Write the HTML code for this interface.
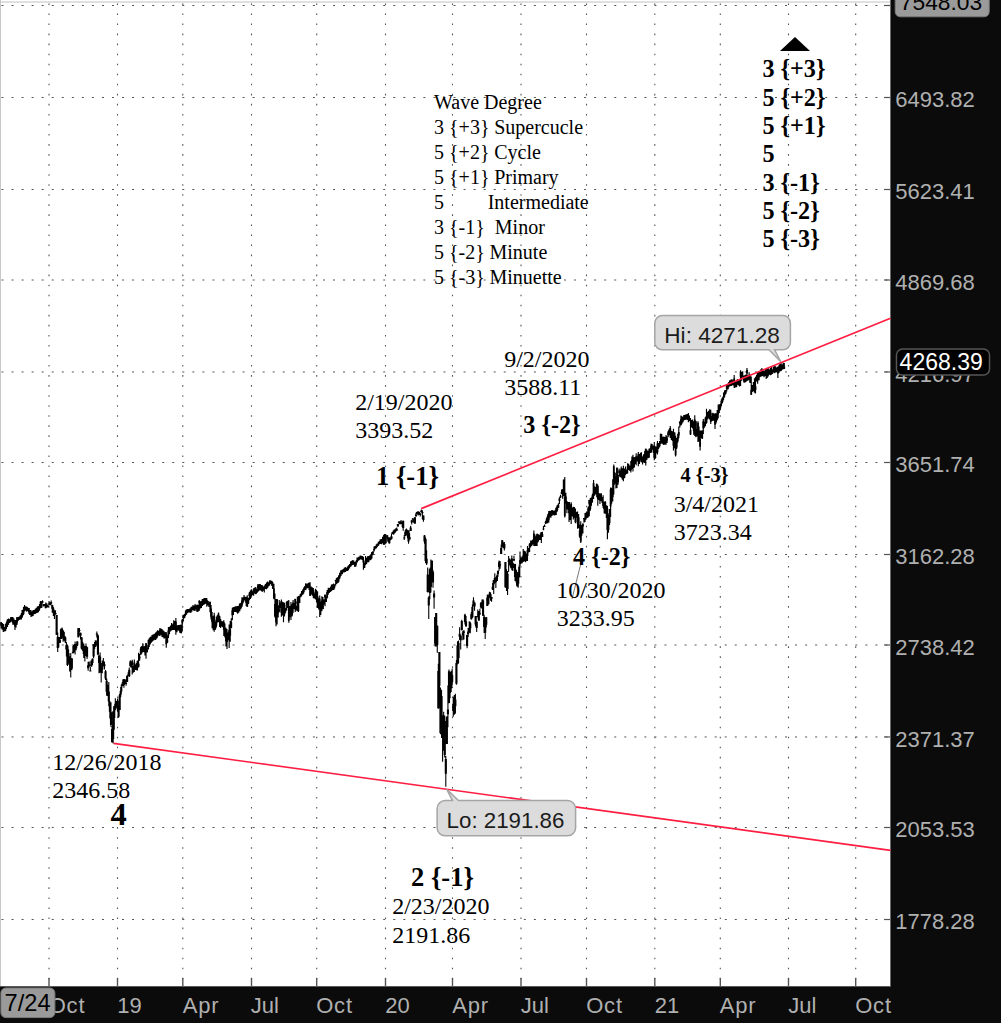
<!DOCTYPE html><html><head><meta charset="utf-8"><style>
html,body{margin:0;padding:0;background:#0b0b0b;overflow:hidden;width:1001px;height:1023px}
svg{display:block}
.sf{font-family:"Liberation Serif",serif;fill:#000}
.sb{font-family:"Liberation Serif",serif;font-weight:bold;fill:#000}
.ax{font-family:"Liberation Sans",sans-serif;fill:#b0b0b0;font-size:22px} .axm{letter-spacing:0.8px}
</style></head><body>
<svg width="1001" height="1023" viewBox="0 0 1001 1023" shape-rendering="auto">
<rect x="0" y="0" width="1001" height="1023" fill="#0b0b0b"/>
<rect x="0" y="0" width="890" height="986" fill="#ffffff"/>
<rect x="0" y="0" width="1" height="986" fill="#c8c8c8"/>
<rect x="1" y="1" width="889" height="2" fill="#e0e0e0"/>
<rect x="890" y="0" width="1" height="987" fill="#6a6a6a"/>
<rect x="0" y="986" width="891" height="1" fill="#5a5a5a"/>
<g><line x1="1.5" y1="5.5" x2="890" y2="5.5" stroke="#555" stroke-width="1" stroke-dasharray="2 8.045"/><line x1="1.5" y1="97.5" x2="890" y2="97.5" stroke="#555" stroke-width="1" stroke-dasharray="2 8.045"/><line x1="1.5" y1="189.5" x2="890" y2="189.5" stroke="#555" stroke-width="1" stroke-dasharray="2 8.045"/><line x1="1.5" y1="280.0" x2="890" y2="280.0" stroke="#555" stroke-width="1" stroke-dasharray="2 8.045"/><line x1="1.5" y1="371.96" x2="890" y2="371.96" stroke="#555" stroke-width="1" stroke-dasharray="2 8.045"/><line x1="1.5" y1="462.5" x2="890" y2="462.5" stroke="#555" stroke-width="1" stroke-dasharray="2 8.045"/><line x1="1.5" y1="554.5" x2="890" y2="554.5" stroke="#555" stroke-width="1" stroke-dasharray="2 8.045"/><line x1="1.5" y1="645.0" x2="890" y2="645.0" stroke="#555" stroke-width="1" stroke-dasharray="2 8.045"/><line x1="1.5" y1="736.96" x2="890" y2="736.96" stroke="#555" stroke-width="1" stroke-dasharray="2 8.045"/><line x1="1.5" y1="827.5" x2="890" y2="827.5" stroke="#555" stroke-width="1" stroke-dasharray="2 8.045"/><line x1="1.5" y1="919.5" x2="890" y2="919.5" stroke="#555" stroke-width="1" stroke-dasharray="2 8.045"/><line x1="49.0" y1="3.4" x2="49.0" y2="986" stroke="#555" stroke-width="1.1" stroke-dasharray="1.6 8.445"/><line x1="117.5" y1="3.4" x2="117.5" y2="986" stroke="#555" stroke-width="1.1" stroke-dasharray="1.6 8.445"/><line x1="182.8" y1="3.4" x2="182.8" y2="986" stroke="#555" stroke-width="1.1" stroke-dasharray="1.6 8.445"/><line x1="251.5" y1="3.4" x2="251.5" y2="986" stroke="#555" stroke-width="1.1" stroke-dasharray="1.6 8.445"/><line x1="316.7" y1="3.4" x2="316.7" y2="986" stroke="#555" stroke-width="1.1" stroke-dasharray="1.6 8.445"/><line x1="385.5" y1="3.4" x2="385.5" y2="986" stroke="#555" stroke-width="1.1" stroke-dasharray="1.6 8.445"/><line x1="452.5" y1="3.4" x2="452.5" y2="986" stroke="#555" stroke-width="1.1" stroke-dasharray="1.6 8.445"/><line x1="521.0" y1="3.4" x2="521.0" y2="986" stroke="#555" stroke-width="1.1" stroke-dasharray="1.6 8.445"/><line x1="586.5" y1="3.4" x2="586.5" y2="986" stroke="#555" stroke-width="1.1" stroke-dasharray="1.6 8.445"/><line x1="654.8" y1="3.4" x2="654.8" y2="986" stroke="#555" stroke-width="1.1" stroke-dasharray="1.6 8.445"/><line x1="720.3" y1="3.4" x2="720.3" y2="986" stroke="#555" stroke-width="1.1" stroke-dasharray="1.6 8.445"/><line x1="788.5" y1="3.4" x2="788.5" y2="986" stroke="#555" stroke-width="1.1" stroke-dasharray="1.6 8.445"/><line x1="855.7" y1="3.4" x2="855.7" y2="986" stroke="#555" stroke-width="1.1" stroke-dasharray="1.6 8.445"/></g>
<rect x="884" y="4.9" width="6" height="1.2" fill="#555"/><rect x="884" y="96.9" width="6" height="1.2" fill="#555"/><rect x="884" y="188.9" width="6" height="1.2" fill="#555"/><rect x="884" y="279.4" width="6" height="1.2" fill="#555"/><rect x="884" y="371.35999999999996" width="6" height="1.2" fill="#555"/><rect x="884" y="461.9" width="6" height="1.2" fill="#555"/><rect x="884" y="553.9" width="6" height="1.2" fill="#555"/><rect x="884" y="644.4" width="6" height="1.2" fill="#555"/><rect x="884" y="736.36" width="6" height="1.2" fill="#555"/><rect x="884" y="826.9" width="6" height="1.2" fill="#555"/><rect x="884" y="918.9" width="6" height="1.2" fill="#555"/><rect x="48.3" y="978" width="1.4" height="8" fill="#555"/><rect x="116.8" y="978" width="1.4" height="8" fill="#555"/><rect x="182.10000000000002" y="978" width="1.4" height="8" fill="#555"/><rect x="250.8" y="978" width="1.4" height="8" fill="#555"/><rect x="316.0" y="978" width="1.4" height="8" fill="#555"/><rect x="384.8" y="978" width="1.4" height="8" fill="#555"/><rect x="451.8" y="978" width="1.4" height="8" fill="#555"/><rect x="520.3" y="978" width="1.4" height="8" fill="#555"/><rect x="585.8" y="978" width="1.4" height="8" fill="#555"/><rect x="654.0999999999999" y="978" width="1.4" height="8" fill="#555"/><rect x="719.5999999999999" y="978" width="1.4" height="8" fill="#555"/><rect x="787.8" y="978" width="1.4" height="8" fill="#555"/><rect x="855.0" y="978" width="1.4" height="8" fill="#555"/>
<path d="M1.13 622.1V628.5M2.20 623.0V629.8M3.26 624.1V632.0M4.33 627.0V631.6M5.39 624.0V631.2M6.46 621.4V629.1M7.52 619.5V627.0M8.59 618.4V624.8M9.65 619.2V622.9M10.72 617.1V622.3M11.79 617.0V621.6M12.85 617.0V624.8M13.92 618.4V624.8M14.98 620.0V630.0M16.05 620.0V627.4M17.11 617.0V624.7M18.18 617.2V621.1M19.24 616.6V620.0M20.31 615.3V619.4M21.38 612.9V619.4M22.44 609.9V617.6M23.51 607.0V615.2M24.57 604.9V611.5M25.64 606.6V610.6M26.70 606.6V611.7M27.77 607.6V611.0M28.83 607.9V613.8M29.90 609.9V614.9M30.96 610.0V616.9M32.03 611.6V616.4M33.10 610.0V615.9M34.16 610.0V614.3M35.23 608.8V613.9M36.29 607.8V613.3M37.36 606.6V612.8M38.42 606.0V612.2M39.49 603.8V610.8M40.55 601.1V608.1M131.12 661.9V667.7M132.19 659.8V674.4M133.25 665.7V672.7M134.32 659.5V672.0M135.38 664.6V670.0M136.45 663.1V670.2M137.51 660.4V670.5M138.58 652.8V667.4M139.65 654.0V660.7M140.71 646.7V654.7M141.78 646.0V653.5M142.84 643.3V652.2M143.91 646.3V651.9M144.97 645.9V655.6M146.04 642.9V658.8M147.10 647.7V652.3M148.17 639.7V649.6M149.24 638.2V646.9M150.30 636.7V644.5M151.37 636.6V642.8M152.43 634.8V641.6M153.50 634.3V640.5M154.56 633.7V639.7M155.63 632.4V640.0M156.69 631.4V638.6M157.76 630.2V636.5M158.82 631.0V635.6M159.89 628.1V636.0M160.96 628.5V634.4M162.02 629.0V637.0M163.09 630.3V637.5M164.15 631.2V638.8M165.22 632.2V637.9M166.28 632.1V647.7M167.35 635.2V642.9M168.41 627.0V638.3M169.48 627.0V634.1M170.55 625.6V631.5M171.61 623.0V630.4M172.68 624.2V630.0M173.74 620.3V630.0M174.81 621.1V630.1M175.87 618.1V634.7M176.94 625.4V632.3M178.00 625.0V630.0M179.07 625.0V630.8M180.13 624.7V633.1M181.20 624.6V633.6M182.27 618.9V631.5M183.33 614.7V621.6M184.40 614.0V618.2M185.46 610.5V616.3M186.53 609.5V614.7M187.59 609.0V613.2M188.66 609.0V612.3M189.72 608.5V612.4M190.79 607.2V612.9M191.86 606.8V611.7M192.92 605.1V610.1M193.99 605.7V610.5M195.05 604.0V611.0M196.12 605.3V609.6M197.18 604.5V611.9M198.25 604.7V611.4M199.31 600.3V610.7M200.38 601.4V608.6M201.44 601.1V608.1M202.51 599.0V606.0M203.58 598.4V604.7M204.64 598.0V604.2M205.71 598.0V603.7M206.77 598.0V606.7M207.84 600.7V605.6M208.90 602.8V607.0M209.97 601.7V612.2M211.03 604.9V619.6M212.10 612.0V628.2M213.17 616.2V630.3M214.23 612.7V631.7M215.30 621.8V630.0M216.36 616.7V627.4M217.43 615.3V622.6M218.49 612.5V622.2M219.56 615.7V627.0M220.62 619.0V627.9M221.69 621.2V626.5M222.75 621.2V627.2M223.82 620.2V636.0M224.89 623.5V637.4M225.95 627.8V646.4M227.02 629.0V649.0M228.08 632.5V640.3M229.15 624.5V648.1M230.21 621.0V641.7M231.28 618.3V628.3M232.34 607.8V620.3M233.41 607.3V615.0M234.48 606.8V612.0M235.54 606.2V612.0M236.61 606.2V612.3M237.67 606.0V613.7M238.74 605.8V612.5M239.80 603.3V611.3M240.87 602.7V609.3M241.93 597.2V607.1M243.00 597.5V603.5M244.06 595.1V600.2M245.13 596.8V601.4M246.20 596.7V606.1M247.26 595.3V606.8M248.33 597.8V604.1M249.39 592.1V600.3M250.46 590.5V598.9M251.52 589.5V596.2M252.59 591.2V595.3M253.65 588.2V595.8M254.72 587.6V593.6M255.79 587.1V594.2M256.85 588.6V593.1M257.92 584.1V592.1M258.98 584.2V591.0M260.05 584.0V590.0M261.11 585.0V591.1M262.18 585.1V592.1M263.24 586.4V590.7M264.31 585.5V592.5M265.38 583.9V589.0M266.44 582.6V589.3M267.51 581.5V587.7M268.57 582.2V586.3M269.64 580.2V585.4M270.70 580.4V583.9M271.77 580.9V585.9M272.83 582.3V589.0M273.90 583.8V599.3M274.96 593.6V617.4M276.03 599.0V626.3M277.10 599.0V624.4M278.16 605.3V617.5M279.23 599.9V612.3M280.29 602.4V608.3M281.36 599.5V616.8M282.42 602.0V615.6M283.49 602.2V622.3M284.55 602.8V616.5M285.62 608.1V612.7M286.68 601.3V610.6M287.75 600.7V608.1M288.82 600.1V622.7M289.88 605.9V617.3M290.95 601.9V620.1M292.01 604.3V616.5M293.08 600.0V613.0M294.14 603.2V609.2M295.21 598.8V611.9M296.27 605.5V610.5M297.34 596.8V611.2M298.41 596.1V611.9M299.47 595.4V602.9M300.54 593.7V597.5M301.60 591.0V596.4M302.67 589.5V594.8M303.73 587.4V593.4M304.80 586.0V589.9M305.86 583.3V590.2M306.93 584.3V588.5M307.99 583.0V588.0M309.06 582.5V589.9M310.13 582.3V596.1M311.19 586.5V594.5M312.26 587.2V595.8M313.32 588.1V598.2M314.39 593.6V598.5M315.45 588.8V599.6M316.52 589.8V602.6M317.58 591.4V607.9M318.65 598.3V609.4M319.72 595.4V616.9M320.78 601.8V614.9M321.85 596.2V611.3M322.91 596.9V609.2M323.98 599.4V604.4M325.04 594.3V606.3M326.11 596.6V602.1M327.17 590.1V598.4M328.24 587.7V594.7M329.30 588.0V593.1M330.37 587.1V591.8M331.44 584.4V590.9M332.50 584.2V590.2M333.57 583.6V590.1M334.63 584.2V588.5M335.70 579.8V585.5M336.76 577.7V583.9M337.83 576.9V582.9M338.89 575.0V581.8M339.96 572.4V578.6M341.03 570.6V576.1M342.09 569.8V574.2M343.16 568.9V572.5M344.22 567.8V572.4M345.29 566.9V571.9M346.35 567.8V571.1M347.42 566.7V570.9M348.48 565.2V570.2M349.55 563.9V568.4M350.61 561.6V566.6M351.68 560.7V565.5M352.75 560.1V565.1M353.81 560.6V564.8M354.88 561.9V567.1M355.94 560.7V566.5M357.01 557.5V562.7M358.07 557.5V560.7M359.14 556.5V560.2M360.20 555.6V559.6M361.27 555.8V559.2M362.34 556.0V560.0M363.40 556.8V569.8M364.47 562.6V567.9M365.53 556.0V565.0M366.60 557.8V564.1M367.66 556.3V562.2M368.73 556.0V562.2M369.79 555.3V560.6M370.86 554.1V560.0M371.92 551.9V558.6M372.99 551.3V555.0M374.06 546.6V551.5M375.12 545.9V549.3M376.19 544.6V548.2M377.25 543.8V547.0M378.32 541.8V545.8M379.38 541.0V544.2M380.45 539.4V544.1M381.51 538.9V544.3M382.58 536.7V543.2M383.65 535.1V544.7M384.71 534.0V544.8M385.78 534.3V543.8M520.03 551.5V566.2M521.09 557.5V563.8M522.16 557.2V563.2M523.23 548.9V562.1M524.29 550.7V561.3M525.36 551.5V562.2M526.42 553.6V561.2M527.49 546.1V560.9M528.55 548.1V552.4M529.62 543.2V551.9M530.68 540.6V547.3M531.75 540.6V546.0M532.82 539.7V544.4M533.88 530.4V546.0M534.95 534.4V546.0M536.01 536.2V546.0M537.08 533.5V546.0M538.14 533.9V542.3M539.21 535.0V539.9M540.27 533.6V540.1M541.34 532.1V543.1M542.40 531.8V537.1M543.47 526.1V530.2M544.54 524.6V526.9M545.60 520.7V524.0M546.67 517.4V523.6M547.73 514.3V523.3M548.80 510.9V522.4M549.86 510.8V517.2M550.93 511.0V517.7M551.99 510.0V516.0M553.06 510.4V514.7M554.13 510.8V515.5M555.19 509.7V515.3M556.26 507.2V515.1M557.32 505.2V511.6M558.39 503.3V508.0M559.45 497.3V503.9M560.52 494.7V498.0M561.58 489.5V493.9M562.65 489.0V498.8M563.71 479.6V496.3M564.78 477.1V517.4M565.85 492.8V503.7M566.91 501.0V513.2M567.98 502.0V509.5M569.04 502.0V522.0M570.11 504.7V520.1M571.17 502.3V523.9M572.24 507.5V516.4M573.30 506.7V519.4M574.37 507.1V517.8M575.44 508.6V523.2M576.50 511.8V517.5M577.57 511.4V528.8M578.63 514.1V528.2M579.70 524.4V537.8M580.76 521.2V542.9M581.83 525.1V535.7M582.89 523.6V533.6M583.96 517.9V522.8M585.02 512.9V522.0M586.09 512.5V519.5M587.16 511.4V518.0M588.22 506.6V517.5M589.29 499.7V516.3M590.35 497.9V510.7M591.42 497.2V505.8M592.48 493.5V502.6M593.55 480.1V499.1M594.61 486.2V495.8M595.68 487.0V494.3M596.75 483.6V497.2M597.81 484.8V505.7M598.88 493.3V500.1M599.94 494.1V504.0M601.01 493.0V500.9M602.07 496.9V503.0M603.14 495.3V508.0M604.20 501.7V513.6M605.27 501.5V513.7M606.33 505.3V517.9M607.40 505.8V539.3M608.47 514.6V532.8M609.53 509.1V524.9M610.60 487.4V517.0M611.66 487.8V503.8M612.73 479.3V501.4M613.79 464.5V494.4M614.86 472.2V483.6M615.92 476.5V488.4M616.99 467.3V487.9M618.06 474.9V484.7M619.12 468.5V476.4M620.19 470.8V477.2M621.25 466.6V477.4M622.32 468.5V479.7M623.38 465.8V481.3M624.45 468.7V478.3M625.51 466.5V475.0M626.58 469.5V474.1M627.64 463.2V473.6M628.71 463.8V469.9M629.78 465.5V471.0M630.84 461.0V472.4M631.91 456.5V468.9M632.97 454.8V471.5M634.04 457.3V467.6M635.10 457.1V464.1M636.17 453.2V465.2M637.23 456.2V461.5M638.30 452.1V466.2M639.37 454.0V463.9M640.43 452.7V460.5M641.50 452.2V462.0M642.56 456.6V464.6M643.63 454.3V462.2M644.69 450.9V463.1M645.76 448.7V465.4M646.82 449.8V460.1M647.89 450.8V458.3M648.95 448.8V457.9M650.02 448.6V453.1M651.09 443.4V453.0M652.15 444.1V449.3M653.22 445.4V452.8M654.28 442.1V460.3M655.35 446.6V458.8M656.41 446.5V453.2M657.48 440.9V454.4M658.54 443.1V448.9M659.61 441.1V447.5M660.68 433.7V444.1M661.74 434.1V443.5M662.81 436.7V444.2M663.87 436.4V444.9M664.94 437.0V444.3M666.00 434.9V445.0M667.07 436.3V442.9M668.13 431.1V437.3M669.20 429.0V435.5M670.26 426.1V438.1M671.33 430.8V440.0M672.40 431.2V441.0M673.46 428.7V450.5M674.53 432.5V448.5M675.59 435.8V456.5M676.66 438.1V449.0M677.72 433.8V442.8M678.79 426.5V438.3M679.85 421.4V427.5M680.92 415.4V425.5M681.99 416.2V423.8M683.05 417.0V422.3M684.12 415.0V420.3M685.18 414.8V420.0M686.25 414.2V419.4M687.31 413.9V420.0M688.38 412.9V422.3M689.44 415.4V421.3M690.51 417.9V435.1M691.57 419.9V427.5M692.64 419.4V428.5M693.71 421.2V434.8M694.77 415.2V436.1M695.84 421.2V437.3M696.90 429.1V436.6M697.97 421.2V442.1M699.03 426.4V441.4M700.10 430.6V450.5M701.16 430.6V438.1M702.23 430.3V439.1M703.30 419.0V434.0M704.36 422.1V427.8M705.43 416.8V426.2M706.49 408.7V423.7M707.56 411.7V419.4M708.62 410.8V417.7M709.69 409.2V419.5M710.75 409.8V423.9M711.82 416.0V421.2M712.88 412.8V420.2M713.95 413.9V420.7M715.02 413.0V428.9M716.08 413.6V423.6M717.15 410.1V420.4M718.21 404.6V418.2M719.28 404.3V412.9M720.34 403.8V410.1M721.41 399.2V406.3M722.47 397.3V403.3M723.54 392.5V400.3M724.61 390.2V397.3M725.67 389.9V394.3M726.74 384.7V391.5M727.80 383.8V389.4M728.87 381.9V387.3M729.93 380.4V386.2M731.00 379.6V385.9M732.06 379.3V385.3M733.13 380.2V385.6M734.19 374.9V387.9M735.26 381.9V387.6M736.33 380.8V387.3M737.39 379.0V384.4M738.46 380.1V385.6M739.52 379.0V386.4M740.59 370.3V386.1M741.65 371.9V380.8M742.72 371.3V376.7M743.78 376.0V382.6M744.85 375.0V382.8M745.92 374.4V381.9M746.98 368.0V381.0M748.05 375.1V380.5M749.11 372.2V379.7M750.18 374.4V383.0M751.24 376.5V395.1M752.31 385.1V392.1M753.37 382.1V390.9M754.44 378.2V392.7M755.50 377.0V393.6M756.57 375.0V381.6M757.64 372.7V383.7M758.70 371.4V380.5M759.77 371.0V377.3M760.83 369.2V376.8M761.90 368.1V376.2M762.96 370.1V375.9M764.03 371.1V377.3M765.09 370.0V375.9M766.16 368.9V378.9M767.23 368.9V378.0M768.29 368.1V376.6M769.36 369.5V374.7M770.42 368.0V375.3M771.49 366.9V374.8M772.55 369.3V374.1M773.62 366.4V372.4M774.68 366.1V373.2M775.75 366.4V372.3M776.81 367.4V372.0M777.88 366.5V378.1M778.95 365.3V373.1M780.01 363.9V371.5M781.08 362.5V371.0M782.14 364.8V369.7M783.21 362.8V369.3M784.27 363.0V369.0" stroke="#000" stroke-width="1.15" fill="none"/>
<path d="M1.13 622.3V625.7M2.20 623.2V626.2M3.26 624.5V627.7M4.33 627.7V628.9M5.39 627.3V631.0M6.46 622.9V626.7M7.52 619.6V624.7M8.59 619.1V623.1M9.65 619.4V621.7M10.72 618.8V621.3M11.79 617.7V618.8M12.85 618.5V622.7M13.92 621.7V624.0M14.98 621.1V626.6M16.05 620.9V625.1M17.11 617.3V622.6M18.18 617.3V619.0M19.24 617.8V619.6M20.31 616.4V618.7M21.38 614.4V617.6M22.44 610.1V614.2M23.51 609.4V613.9M24.57 606.5V611.1M25.64 608.0V609.0M26.70 607.0V608.4M27.77 608.5V609.6M28.83 608.1V611.9M29.90 611.6V614.7M30.96 611.9V614.2M32.03 612.2V613.5M33.10 610.9V612.8M34.16 611.3V612.3M35.23 610.6V612.5M36.29 609.6V612.4M37.36 610.9V612.3M38.42 607.5V609.9M39.49 607.1V608.9M40.55 601.5V603.1M131.12 661.9V663.2M132.19 660.9V664.9M133.25 666.2V669.7M134.32 662.4V666.5M135.38 665.3V669.2M136.45 664.3V666.9M137.51 661.0V667.2M138.58 663.7V666.8M139.65 656.8V658.2M140.71 648.8V654.4M141.78 650.1V652.2M142.84 647.0V651.1M143.91 647.8V651.6M144.97 649.3V652.4M146.04 643.2V649.2M147.10 649.7V652.2M148.17 645.1V649.2M149.24 639.5V642.2M150.30 637.8V640.2M151.37 638.8V641.6M152.43 635.0V639.1M153.50 636.9V640.2M154.56 637.1V638.8M155.63 636.2V639.0M156.69 633.1V638.0M157.76 630.8V632.6M158.82 633.8V635.0M159.89 629.7V635.2M160.96 633.0V634.3M162.02 631.0V635.2M163.09 630.9V635.3M164.15 632.7V635.2M165.22 632.7V635.0M166.28 634.1V644.3M167.35 639.4V642.6M168.41 630.3V635.4M169.48 627.1V630.3M170.55 626.3V628.7M171.61 627.7V629.2M172.68 625.2V628.0M173.74 623.2V627.7M174.81 622.7V625.7M175.87 621.6V631.3M176.94 627.8V630.7M178.00 626.4V628.7M179.07 628.1V630.6M180.13 628.0V632.6M181.20 627.1V633.1M182.27 620.1V623.4M183.33 615.0V617.9M184.40 615.6V618.0M185.46 613.5V615.1M186.53 609.8V612.6M187.59 609.6V612.4M188.66 610.8V612.3M189.72 609.3V611.0M190.79 608.5V610.2M191.86 606.8V608.9M192.92 607.1V608.9M193.99 607.6V610.4M195.05 605.4V607.2M196.12 606.6V607.8M197.18 606.6V611.4M198.25 607.1V610.3M199.31 600.8V603.3M200.38 602.9V607.7M201.44 601.3V605.5M202.51 599.2V603.5M203.58 601.4V604.5M204.64 598.5V600.6M205.71 598.2V599.8M206.77 599.9V602.5M207.84 601.1V603.4M208.90 602.8V604.4M209.97 601.8V605.2M211.03 608.4V616.8M212.10 617.4V622.2M213.17 620.3V626.2M214.23 615.5V627.2M215.30 626.0V629.1M216.36 619.8V625.6M217.43 615.7V617.6M218.49 613.5V619.1M219.56 616.4V619.6M220.62 620.4V623.4M221.69 622.8V624.6M222.75 623.1V627.1M223.82 622.2V629.7M224.89 627.8V630.6M225.95 633.1V641.2M227.02 636.0V642.1M228.08 632.7V635.8M229.15 630.2V635.2M230.21 629.3V635.8M231.28 622.2V627.7M232.34 610.3V615.2M233.41 607.5V611.5M234.48 608.5V611.8M235.54 608.3V611.3M236.61 609.0V611.7M237.67 608.5V613.1M238.74 606.5V610.1M239.80 604.1V605.9M240.87 604.8V608.0M241.93 600.5V605.6M243.00 598.8V602.2M244.06 596.9V599.3M245.13 597.7V598.8M246.20 597.6V602.9M247.26 600.2V606.7M248.33 600.0V603.5M249.39 593.6V595.9M250.46 591.6V596.4M251.52 589.5V592.8M252.59 592.4V594.7M253.65 590.8V593.4M254.72 588.1V591.9M255.79 589.2V594.1M256.85 589.3V592.4M257.92 585.2V587.9M258.98 586.8V588.6M260.05 584.3V588.4M261.11 585.7V589.0M262.18 586.3V590.8M263.24 587.2V589.0M264.31 587.3V589.2M265.38 585.8V588.7M266.44 587.2V589.0M267.51 584.0V587.5M268.57 582.9V585.8M269.64 581.6V583.5M270.70 580.7V582.9M271.77 581.3V584.6M272.83 586.2V588.8M273.90 588.3V598.3M274.96 604.1V616.4M276.03 603.9V622.2M277.10 599.6V613.8M278.16 607.0V613.3M279.23 608.8V611.6M280.29 605.3V607.3M281.36 600.9V612.8M282.42 603.4V608.8M283.49 605.2V610.9M284.55 605.1V614.1M285.62 608.5V610.4M286.68 601.9V604.7M287.75 603.6V606.0M288.82 606.1V620.7M289.88 608.3V612.7M290.95 605.8V610.0M292.01 609.4V615.6M293.08 602.4V606.4M294.14 604.8V608.9M295.21 598.9V607.2M296.27 607.1V609.3M297.34 601.3V604.2M298.41 600.5V611.0M299.47 598.1V602.9M300.54 593.9V595.2M301.60 593.0V594.5M302.67 591.5V594.2M303.73 589.3V591.9M304.80 586.8V589.4M305.86 583.8V586.3M306.93 584.5V585.6M307.99 584.6V586.9M309.06 584.2V585.8M310.13 589.8V595.8M311.19 587.8V590.4M312.26 590.6V592.4M313.32 590.1V595.5M314.39 593.7V595.3M315.45 591.7V595.7M316.52 590.9V597.9M317.58 596.3V606.2M318.65 604.2V608.1M319.72 598.7V605.4M320.78 603.2V609.0M321.85 600.6V605.3M322.91 602.4V608.9M323.98 599.6V603.1M325.04 594.9V597.6M326.11 599.0V602.1M327.17 592.1V597.7M328.24 591.3V592.8M329.30 588.0V589.4M330.37 590.5V591.7M331.44 586.0V587.9M332.50 586.4V587.8M333.57 587.3V589.8M334.63 585.5V586.5M335.70 580.1V581.3M336.76 578.3V582.3M337.83 580.7V582.7M338.89 575.9V579.3M339.96 573.2V576.7M341.03 570.6V572.5M342.09 571.5V574.1M343.16 570.0V571.2M344.22 569.1V570.6M345.29 569.5V571.7M346.35 568.8V570.8M347.42 568.8V570.4M348.48 565.9V567.1M349.55 565.8V566.8M350.61 564.8V566.6M351.68 561.1V562.2M352.75 562.1V564.3M353.81 562.0V564.1M354.88 565.1V566.4M355.94 562.8V564.8M357.01 559.9V561.9M358.07 559.5V560.5M359.14 557.1V559.6M360.20 557.9V559.1M361.27 557.4V558.9M362.34 557.4V559.8M363.40 559.7V562.6M364.47 565.1V567.7M365.53 560.8V564.2M366.60 558.0V562.2M367.66 556.8V559.1M368.73 557.1V559.0M369.79 556.6V557.7M370.86 557.3V559.1M371.92 552.2V555.3M372.99 551.5V553.4M374.06 549.0V550.4M375.12 546.3V548.6M376.19 545.9V548.2M377.25 543.8V544.8M378.32 543.9V545.6M379.38 542.1V543.6M380.45 539.5V542.6M381.51 540.1V541.5M382.58 539.6V542.5M383.65 538.2V544.6M384.71 534.3V539.1M385.78 538.1V543.0M520.03 559.9V564.0M521.09 557.9V561.8M522.16 557.6V560.0M523.23 555.3V559.6M524.29 550.9V557.0M525.36 555.0V560.1M526.42 556.5V559.6M527.49 549.9V556.1M528.55 550.4V551.7M529.62 543.8V547.5M530.68 542.7V544.5M531.75 543.3V544.5M532.82 539.8V542.0M533.88 533.6V540.7M534.95 537.0V545.1M536.01 541.4V545.8M537.08 534.2V542.4M538.14 537.8V541.0M539.21 535.3V538.2M540.27 535.8V538.0M541.34 532.3V536.3M542.40 534.0V536.9M543.47 528.4V529.6M544.54 525.7V526.7M545.60 521.7V523.2M546.67 518.6V521.8M547.73 516.0V520.3M548.80 513.0V519.7M549.86 511.4V515.4M550.93 511.9V515.5M551.99 510.2V511.4M553.06 512.5V514.5M554.13 510.9V511.9M555.19 511.9V513.7M556.26 508.0V512.0M557.32 505.7V510.0M558.39 504.6V507.7M559.45 498.4V501.0M560.52 496.0V497.2M561.58 491.9V493.8M562.65 493.0V495.2M563.71 479.7V489.5M564.78 497.0V516.2M565.85 496.6V501.5M566.91 501.8V509.2M567.98 504.1V509.0M569.04 502.1V513.2M570.11 507.6V516.4M571.17 503.8V510.6M572.24 510.1V515.2M573.30 509.6V515.7M574.37 512.0V517.6M575.44 517.5V522.0M576.50 514.1V517.4M577.57 513.9V523.8M578.63 517.2V526.4M579.70 530.7V536.6M580.76 529.6V541.5M581.83 526.6V530.3M582.89 523.8V526.5M583.96 518.0V519.3M585.02 517.8V519.8M586.09 515.7V517.3M587.16 511.6V515.8M588.22 508.3V511.0M589.29 500.1V504.3M590.35 501.0V508.8M591.42 498.0V502.9M592.48 495.2V498.2M593.55 483.1V493.8M594.61 488.4V494.5M595.68 488.1V492.3M596.75 484.1V492.7M597.81 486.2V498.9M598.88 493.3V498.0M599.94 497.6V500.5M601.01 493.8V499.1M602.07 499.8V501.4M603.14 502.9V506.0M604.20 504.7V509.2M605.27 501.6V509.4M606.33 507.9V513.6M607.40 508.6V530.1M608.47 519.6V530.1M609.53 513.1V522.9M610.60 489.6V506.5M611.66 493.2V497.5M612.73 489.4V497.1M613.79 466.3V484.9M614.86 473.1V478.4M615.92 477.0V483.7M616.99 467.9V482.0M618.06 476.7V482.3M619.12 470.6V473.1M620.19 472.2V475.7M621.25 468.8V474.2M622.32 472.8V478.2M623.38 467.9V474.2M624.45 472.4V477.7M625.51 470.0V473.0M626.58 470.8V473.4M627.64 466.2V469.6M628.71 466.4V469.7M629.78 467.1V469.3M630.84 467.4V470.6M631.91 459.9V466.0M632.97 458.6V467.9M634.04 463.1V467.3M635.10 457.5V461.5M636.17 456.4V460.4M637.23 457.1V459.9M638.30 454.2V458.9M639.37 459.5V462.5M640.43 455.3V459.9M641.50 458.7V461.7M642.56 458.1V462.9M643.63 455.4V460.2M644.69 454.4V458.4M645.76 448.8V453.7M646.82 453.0V456.6M647.89 455.1V457.9M648.95 451.3V457.3M650.02 448.6V449.6M651.09 445.4V451.9M652.15 446.9V448.5M653.22 445.9V450.3M654.28 446.0V457.8M655.35 450.8V458.0M656.41 447.8V451.6M657.48 443.6V452.3M658.54 443.3V445.9M659.61 443.0V445.9M660.68 433.8V440.3M661.74 437.8V442.8M662.81 440.3V442.1M663.87 440.0V444.6M664.94 440.7V443.9M666.00 440.6V442.8M667.07 438.2V440.7M668.13 432.6V435.2M669.20 430.1V434.0M670.26 427.9V433.3M671.33 432.1V437.5M672.40 434.9V440.0M673.46 441.0V445.8M674.53 432.6V438.2M675.59 449.2V455.3M676.66 440.4V447.6M677.72 436.9V441.3M678.79 431.9V435.5M679.85 421.6V423.4M680.92 419.2V425.1M681.99 417.9V422.4M683.05 418.5V420.4M684.12 415.2V417.7M685.18 417.9V419.3M686.25 415.8V416.9M687.31 415.3V418.0M688.38 417.4V419.8M689.44 418.6V419.8M690.51 430.1V434.6M691.57 424.2V425.8M692.64 424.8V426.9M693.71 427.7V431.0M694.77 419.5V431.1M695.84 421.3V430.3M696.90 430.9V432.7M697.97 422.8V434.5M699.03 431.7V437.5M700.10 438.4V446.8M701.16 432.8V436.7M702.23 432.6V438.5M703.30 421.3V428.6M704.36 422.9V426.3M705.43 418.3V422.9M706.49 416.5V422.7M707.56 413.9V418.9M708.62 413.2V416.0M709.69 412.4V418.7M710.75 412.8V421.7M711.82 418.2V421.0M712.88 413.2V416.0M713.95 416.6V420.5M715.02 419.6V424.7M716.08 418.7V421.9M717.15 413.2V419.4M718.21 410.0V414.3M719.28 407.1V410.9M720.34 404.9V408.3M721.41 400.7V404.1M722.47 398.0V402.1M723.54 396.2V398.1M724.61 392.5V395.2M725.67 390.7V393.5M726.74 385.6V388.9M727.80 385.7V389.0M728.87 382.6V384.2M729.93 380.6V382.0M731.00 381.5V385.7M732.06 383.5V385.1M733.13 381.4V385.0M734.19 378.4V383.6M735.26 382.0V383.8M736.33 382.7V387.0M737.39 381.5V384.4M738.46 381.3V385.0M739.52 380.8V382.7M740.59 371.6V376.8M741.65 376.3V378.7M742.72 375.2V376.4M743.78 376.4V380.6M744.85 376.9V381.7M745.92 377.1V380.3M746.98 370.1V373.6M748.05 378.5V380.0M749.11 376.4V378.9M750.18 379.3V382.4M751.24 390.1V394.8M752.31 387.4V389.6M753.37 387.5V390.8M754.44 386.7V391.7M755.50 386.3V390.1M756.57 375.9V379.9M757.64 372.7V375.7M758.70 376.2V380.0M759.77 374.4V376.2M760.83 372.7V374.5M761.90 369.3V372.9M762.96 371.5V375.0M764.03 373.8V376.2M765.09 371.9V375.6M766.16 369.0V373.5M767.23 370.0V373.0M768.29 371.2V374.4M769.36 369.8V372.2M770.42 371.4V374.0M771.49 370.5V373.6M772.55 370.7V372.8M773.62 366.9V370.9M774.68 366.6V368.7M775.75 369.5V371.0M776.81 368.6V370.9M777.88 367.1V373.5M778.95 368.2V370.2M780.01 364.5V367.5M781.08 366.2V370.4M782.14 367.7V369.1M783.21 364.1V368.2M784.27 366.4V368.8" stroke="#000" stroke-width="1.8" fill="none"/>
<path d="M387.22 535.2V539.7M388.29 537.6V542.3M389.35 537.5V543.8M390.42 537.8V540.3M391.48 533.5V539.4M392.55 531.9V534.2M393.61 530.4V534.7M394.68 529.4V533.2M395.74 528.3V531.5M396.81 527.4V530.9M397.87 523.9V526.6M398.94 521.4V523.5M400.00 521.4V524.0M401.06 519.9V523.3M402.13 522.0V526.8M403.19 520.8V530.7M404.26 535.1V539.9M405.32 529.9V536.2M406.39 528.4V532.6M407.46 529.9V538.2M408.52 530.6V543.8M409.59 533.2V539.6M410.65 525.8V530.9M411.72 520.0V524.5M412.78 518.0V520.6M413.85 519.2V522.9M414.91 517.2V523.7M415.98 512.8V517.1M417.04 511.7V513.9M418.11 511.0V515.6M419.17 511.8V514.5M420.24 512.9V516.5M421.30 509.4V512.2M422.37 510.2V519.3M423.43 515.6V521.7M424.50 534.9V543.8M425.56 537.4V563.0M426.62 550.2V565.0M427.69 567.4V592.4M428.75 596.2V618.9M429.82 568.7V599.3M430.88 559.4V592.6M431.95 560.5V580.4M433.01 570.3V587.7M434.08 590.6V608.8M435.14 617.1V646.5M436.21 613.0V646.6M437.28 625.7V652.8M438.34 663.8V708.7M439.41 651.9V705.3M440.47 687.6V734.3M441.54 689.8V738.0M442.60 715.3V761.7M443.67 711.8V750.8M444.73 715.4V757.5M445.80 756.1V786.8M446.86 716.3V744.1M447.93 685.5V727.3M448.99 669.5V703.2M450.06 674.6V698.3M451.12 670.8V692.0M452.19 668.4V685.5M453.25 697.6V716.8M454.31 695.0V714.7M455.38 693.7V713.6M456.44 660.0V684.7M457.51 641.3V664.5M458.57 640.4V663.2M459.64 627.2V640.0M460.71 635.4V649.6M461.77 619.8V630.3M462.84 631.0V640.2M463.90 630.0V639.6M464.97 613.7V624.5M466.03 616.0V626.8M467.10 634.7V648.2M468.16 628.0V636.9M469.23 621.3V632.7M470.29 621.8V633.3M471.36 611.9V619.6M472.42 604.5V617.8M473.49 597.3V606.5M474.55 602.4V610.8M475.62 616.0V626.5M476.68 621.5V631.9M477.75 609.5V617.2M478.81 611.1V620.7M479.88 608.7V614.3M480.94 602.2V608.5M482.00 599.5V608.4M483.07 599.2V615.8M484.13 614.8V633.0M485.20 619.6V639.0M486.26 616.9V627.6M487.33 594.4V606.1M488.39 595.3V604.3M489.46 591.8V597.5M490.52 592.2V600.8M491.59 596.9V601.8M492.65 583.1V590.1M493.72 580.0V594.1M494.79 573.3V582.7M495.85 577.3V587.9M496.92 574.6V581.1M497.98 570.7V576.8M499.05 560.5V570.8M500.11 560.9V568.8M501.18 544.4V553.9M502.24 540.1V547.5M503.31 542.2V548.0M504.37 542.1V550.4M505.44 562.0V587.7M506.50 569.2V590.9M507.56 571.0V594.9M508.63 556.0V571.7M509.69 558.5V565.2M510.76 562.7V568.2M511.82 555.6V570.3M512.89 562.6V571.1M513.96 555.7V561.3M515.02 563.8V580.9M516.09 569.6V582.6M517.15 572.2V586.7M518.22 576.3V587.7M519.28 564.5V577.6M41.39 601.6V607.7M42.48 600.3V603.3M43.56 604.0V606.4M44.65 603.9V606.2M45.74 602.4V608.4M46.83 603.2V607.1M47.91 604.7V607.5M49.00 601.1V605.2M50.09 602.3V604.9M51.17 600.5V604.5M52.26 604.8V612.7M53.35 607.1V615.9M54.44 610.3V619.1M55.52 610.3V614.8M56.61 614.9V634.9M57.70 632.5V652.0M58.79 636.9V647.6M59.87 636.9V643.1M60.96 628.4V639.0M62.05 627.6V635.6M63.13 630.1V641.7M64.22 631.9V640.5M65.31 636.2V643.0M66.40 642.0V656.5M67.48 644.6V665.9M68.57 649.2V662.1M69.66 656.3V671.6M70.75 652.9V677.6M71.83 657.9V669.9M72.92 645.9V653.2M74.01 644.8V652.4M75.10 641.4V654.4M76.18 644.2V650.3M77.27 641.3V645.9M78.36 628.0V637.3M79.44 628.1V632.6M80.53 632.8V639.6M81.62 636.9V649.4M82.71 641.8V651.0M83.79 643.6V657.9M84.88 646.2V661.4M85.97 643.6V651.7M87.06 646.8V659.0M88.14 661.7V670.8M89.23 661.4V666.4M90.32 667.0V670.9M91.40 660.6V666.4M92.49 658.6V665.0M93.58 644.3V658.2M94.67 642.0V649.1M95.75 640.4V646.9M96.84 631.4V637.5M97.93 634.6V655.2M99.02 655.4V673.2M100.10 652.5V672.8M101.19 667.0V682.6M102.28 660.6V673.3M103.37 657.9V666.3M104.45 661.6V669.4M105.54 670.0V680.0M106.63 678.2V695.7M107.71 684.8V696.1M108.80 682.1V706.2M109.89 700.9V718.4M110.98 702.2V727.0M112.06 726.5V742.3M113.15 711.6V743.6M114.24 706.1V729.8M115.33 698.2V710.3M116.41 701.0V707.7M117.50 698.4V711.7M118.57 705.1V717.7M119.64 693.8V709.9M120.71 686.8V697.2M121.78 683.4V691.4M122.85 679.6V686.1M123.92 679.0V687.8M124.99 679.4V684.0M126.06 681.1V685.7M127.13 675.3V682.1M128.20 672.2V675.4M129.27 667.6V676.9M130.34 660.3V667.0" stroke="#000" stroke-width="1.1" fill="none"/>
<path d="M387.22 535.3V537.9M388.29 539.8V541.5M389.35 537.6V543.2M390.42 538.4V539.6M391.48 536.2V539.1M392.55 532.0V533.7M393.61 530.7V533.8M394.68 529.4V532.7M395.74 530.0V531.2M396.81 529.2V530.6M397.87 523.9V526.6M398.94 521.5V522.7M400.00 523.1V524.3M401.06 521.4V523.0M402.13 522.3V524.1M403.19 520.8V528.0M404.26 537.4V538.6M405.32 531.7V535.8M406.39 529.2V532.3M407.46 530.3V535.6M408.52 530.6V541.6M409.59 537.0V539.6M410.65 527.6V530.9M411.72 520.5V522.4M412.78 518.4V519.6M413.85 520.3V521.8M414.91 517.2V523.6M415.98 514.6V516.1M417.04 512.0V513.7M418.11 513.1V514.6M419.17 511.9V513.1M420.24 513.8V515.0M421.30 510.8V512.0M422.37 511.9V513.2M423.43 515.6V519.9M424.50 535.4V541.6M425.56 539.0V561.1M426.62 558.7V563.5M427.69 574.5V592.1M428.75 597.4V605.5M429.82 568.8V593.1M430.88 567.6V586.9M431.95 560.7V578.0M433.01 571.8V582.6M434.08 593.5V597.4M435.14 617.1V643.7M436.21 613.1V628.4M437.28 625.7V644.9M438.34 671.0V708.3M439.41 651.9V685.8M440.47 701.2V732.9M441.54 696.0V722.5M442.60 719.7V729.8M443.67 726.8V731.0M444.73 720.9V754.9M445.80 758.9V773.8M446.86 716.9V744.1M447.93 709.6V714.2M448.99 671.2V703.0M450.06 689.3V692.9M451.12 672.0V688.6M452.19 674.9V682.2M453.25 703.8V710.9M454.31 696.6V714.0M455.38 699.6V706.2M456.44 663.1V683.8M457.51 645.5V664.1M458.57 642.9V658.0M459.64 633.7V636.7M460.71 635.4V640.2M461.77 621.1V630.3M462.84 632.4V635.2M463.90 631.5V632.7M464.97 614.7V621.9M466.03 621.2V626.2M467.10 634.9V646.0M468.16 631.6V634.2M469.23 629.1V631.9M470.29 623.2V628.6M471.36 613.9V619.2M472.42 607.0V617.2M473.49 600.6V605.1M474.55 602.4V606.4M475.62 616.0V624.5M476.68 621.8V628.0M477.75 616.0V617.2M478.81 612.9V620.5M479.88 613.3V614.5M480.94 602.7V607.2M482.00 602.6V605.8M483.07 600.6V615.7M484.13 616.7V626.9M485.20 619.6V632.7M486.26 617.2V624.7M487.33 597.5V606.1M488.39 598.6V604.2M489.46 593.7V597.5M490.52 594.0V598.6M491.59 597.1V598.7M492.65 586.8V589.4M493.72 580.0V584.3M494.79 577.9V581.4M495.85 578.3V582.3M496.92 576.0V581.1M497.98 570.8V574.1M499.05 562.2V567.1M500.11 564.3V565.5M501.18 547.9V553.9M502.24 540.3V546.7M503.31 544.0V545.3M504.37 544.0V548.6M505.44 562.0V587.2M506.50 572.8V579.0M507.56 573.7V589.0M508.63 560.5V561.8M509.69 559.5V564.1M510.76 563.7V566.5M511.82 558.6V567.3M512.89 563.2V568.0M513.96 559.0V560.5M515.02 563.9V577.1M516.09 570.2V577.9M517.15 572.3V585.7M518.22 576.5V583.7M519.28 566.8V577.1M41.39 602.5V607.7M42.48 601.2V602.7M43.56 604.4V605.6M44.65 604.4V605.8M45.74 605.5V607.9M46.83 606.1V607.3M47.91 606.1V607.3M49.00 603.4V604.6M50.09 604.0V605.2M51.17 602.3V603.6M52.26 604.9V608.8M53.35 608.6V612.3M54.44 612.6V614.1M55.52 613.0V614.2M56.61 614.9V634.7M57.70 636.7V647.9M58.79 638.1V639.3M59.87 639.7V642.7M60.96 629.2V638.9M62.05 628.8V630.0M63.13 631.0V638.5M64.22 637.0V638.8M65.31 637.4V641.5M66.40 645.0V649.6M67.48 645.7V664.9M68.57 653.2V660.4M69.66 662.1V664.3M70.75 658.6V668.5M71.83 658.6V668.6M72.92 651.8V653.2M74.01 645.1V650.4M75.10 643.9V649.1M76.18 645.6V648.3M77.27 641.6V645.5M78.36 628.3V637.3M79.44 629.9V631.1M80.53 632.8V635.7M81.62 637.4V648.4M82.71 647.5V649.3M83.79 645.7V654.1M84.88 647.5V656.0M85.97 646.0V650.2M87.06 647.3V656.7M88.14 665.3V668.3M89.23 664.5V666.4M90.32 670.4V671.6M91.40 660.8V666.4M92.49 658.7V663.1M93.58 644.3V656.5M94.67 645.7V646.9M95.75 640.5V645.7M96.84 633.6V634.8M97.93 635.4V654.5M99.02 655.5V663.1M100.10 656.6V670.4M101.19 669.3V671.0M102.28 662.9V669.6M103.37 664.4V666.1M104.45 664.3V666.2M105.54 671.3V678.5M106.63 680.7V691.8M107.71 688.3V691.7M108.80 691.5V701.6M109.89 704.2V711.7M110.98 712.2V724.9M112.06 729.1V742.3M113.15 711.6V739.1M114.24 706.2V718.1M115.33 703.7V707.0M116.41 701.6V703.6M117.50 700.8V709.2M118.57 705.4V716.7M119.64 695.3V709.9M120.71 690.9V694.4M121.78 684.7V686.3M122.85 682.1V683.4M123.92 679.3V685.0M124.99 679.4V681.4M126.06 682.7V683.9M127.13 676.0V682.1M128.20 674.5V675.7M129.27 669.7V676.2M130.34 661.4V666.1" stroke="#000" stroke-width="2.1" fill="none"/>
<line x1="421.2" y1="508.6" x2="890.5" y2="318.3" stroke="#ff1e42" stroke-width="1.7"/>
<line x1="113.6" y1="743.4" x2="890.5" y2="850.4" stroke="#ff1e42" stroke-width="1.7"/>
<line x1="581" y1="563" x2="572" y2="599" stroke="#777" stroke-width="1"/>
<text class="sf" x="434" y="109" font-size="20">Wave Degree</text>
<text class="sf" x="434" y="134" font-size="20">3 {+3}</text>
<text class="sf" x="494.2" y="134" font-size="20">Supercucle</text>
<text class="sf" x="434" y="159" font-size="20">5 {+2}</text>
<text class="sf" x="494.2" y="159" font-size="20">Cycle</text>
<text class="sf" x="434" y="184" font-size="20">5 {+1}</text>
<text class="sf" x="494.2" y="184" font-size="20">Primary</text>
<text class="sf" x="434" y="209" font-size="20">5</text>
<text class="sf" x="487.7" y="209" font-size="20">Intermediate</text>
<text class="sf" x="434" y="234" font-size="20">3 {-1}</text>
<text class="sf" x="494.8" y="234" font-size="20">Minor</text>
<text class="sf" x="434" y="259" font-size="20">5 {-2}</text>
<text class="sf" x="489.5" y="259" font-size="20">Minute</text>
<text class="sf" x="434" y="284" font-size="20">5 {-3}</text>
<text class="sf" x="489.5" y="284" font-size="20">Minuette</text>
<text class="sb" x="762.4" y="77.4" font-size="24.2">3 {+3}</text>
<text class="sb" x="762.4" y="105.8" font-size="24.2">5 {+2}</text>
<text class="sb" x="762.4" y="134.4" font-size="24.2">5 {+1}</text>
<text class="sb" x="762.4" y="162.3" font-size="24.2">5</text>
<text class="sb" x="762.4" y="190.7" font-size="24.2">3 {-1}</text>
<text class="sb" x="762.4" y="219.2" font-size="24.2">5 {-2}</text>
<text class="sb" x="762.4" y="247.3" font-size="24.2">5 {-3}</text>
<path d="M795 37 L810 51 L780 51 Z" fill="#000"/>
<text class="sf" x="355.2" y="410" font-size="24">2/19/2020</text>
<text class="sf" x="355.2" y="438" font-size="24">3393.52</text>
<text class="sb" x="376" y="485.2" font-size="26.5">1 {-1}</text>
<text class="sf" x="504.2" y="366.6" font-size="24">9/2/2020</text>
<text class="sf" x="504.2" y="395.2" font-size="24">3588.11</text>
<text class="sb" x="523.3" y="433" font-size="24.2">3 {-2}</text>
<text class="sb" x="573" y="565.3" font-size="24.2">4 {-2}</text>
<text class="sf" x="556.2" y="597.5" font-size="24">10/30/2020</text>
<text class="sf" x="556.7" y="626" font-size="24">3233.95</text>
<text class="sb" x="680.5" y="482" font-size="20.3">4 {-3}</text>
<text class="sf" x="673.7" y="512" font-size="24">3/4/2021</text>
<text class="sf" x="673.7" y="540" font-size="24">3723.34</text>
<text class="sf" x="52.2" y="770" font-size="24">12/26/2018</text>
<text class="sf" x="52.2" y="798" font-size="24">2346.58</text>
<text class="sb" x="110.5" y="825" font-size="32.5">4</text>
<text class="sb" x="411" y="885.8" font-size="26.5">2 {-1}</text>
<text class="sf" x="392.2" y="914" font-size="24">2/23/2020</text>
<text class="sf" x="392.2" y="942.8" font-size="24">2191.86</text>
<path d="M662.3 315.5 H782.9 A7.5 7.5 0 0 1 790.4 323 V342.3 A7.5 7.5 0 0 1 782.9 349.8 H774.6 L780.8 361.8 L769 349.8 H662.3 A7.5 7.5 0 0 1 654.8 342.3 V323 A7.5 7.5 0 0 1 662.3 315.5 Z" fill="#dcdcdc" stroke="#a5a5a5" stroke-width="1.5"/>
<text x="664.3" y="343" font-family="Liberation Sans, sans-serif" font-size="22.6" fill="#1c1c1c">Hi: 4271.28</text>
<path d="M445.1 800.6 H452.5 L446.8 789.3 L458.5 800.6 H567.6 A8 8 0 0 1 575.6 808.6 V827.8 A8 8 0 0 1 567.6 835.8 H445.1 A8 8 0 0 1 437.1 827.8 V808.6 A8 8 0 0 1 445.1 800.6 Z" fill="#dcdcdc" stroke="#a5a5a5" stroke-width="1.5"/>
<text x="446.6" y="828.3" font-family="Liberation Sans, sans-serif" font-size="22.3" fill="#1c1c1c">Lo: 2191.86</text>
<text class="ax" x="895.3" y="107.1">6493.82</text>
<text class="ax" x="895.3" y="199.1">5623.41</text>
<text class="ax" x="895.3" y="289.6">4869.68</text>
<text class="ax" x="895.3" y="381.6">4216.97</text>
<text class="ax" x="895.3" y="472.1">3651.74</text>
<text class="ax" x="895.3" y="564.1">3162.28</text>
<text class="ax" x="895.3" y="654.6">2738.42</text>
<text class="ax" x="895.3" y="746.6">2371.37</text>
<text class="ax" x="895.3" y="837.1">2053.53</text>
<text class="ax" x="895.3" y="929.1">1778.28</text>
<rect x="895.2" y="-10" width="94" height="26.8" rx="5" fill="#9a9a9a" stroke="#7a7a7a" stroke-width="1"/>
<text x="899.8" y="10" font-family="Liberation Sans, sans-serif" font-size="22.8" fill="#000">7548.03</text>
<rect x="896.5" y="349" width="93" height="26" rx="6" fill="#000" stroke="#555" stroke-width="1.5"/>
<text x="899.6" y="370" font-family="Liberation Sans, sans-serif" font-size="23" fill="#fff">4268.39</text>
<text class="ax axm" x="48.7" y="1012.5">Oct</text>
<text class="ax" x="117.2" y="1012.5">19</text>
<text class="ax axm" x="182.7" y="1012.5">Apr</text>
<text class="ax" x="250.7" y="1012.5">Jul</text>
<text class="ax axm" x="316.2" y="1012.5">Oct</text>
<text class="ax" x="385.2" y="1012.5">20</text>
<text class="ax axm" x="452.2" y="1012.5">Apr</text>
<text class="ax" x="520.7" y="1012.5">Jul</text>
<text class="ax axm" x="586.2" y="1012.5">Oct</text>
<text class="ax" x="654.7" y="1012.5">21</text>
<text class="ax axm" x="719.7" y="1012.5">Apr</text>
<text class="ax" x="788.2" y="1012.5">Jul</text>
<text class="ax axm" x="855.2" y="1012.5">Oct</text>
<rect x="0.9" y="988" width="54" height="29.6" rx="5" fill="#9a9a9a" stroke="#7a7a7a" stroke-width="1"/>
<text x="4.6" y="1011.2" font-family="Liberation Sans, sans-serif" font-size="23.6" fill="#000">7/24</text>
</svg></body></html>
